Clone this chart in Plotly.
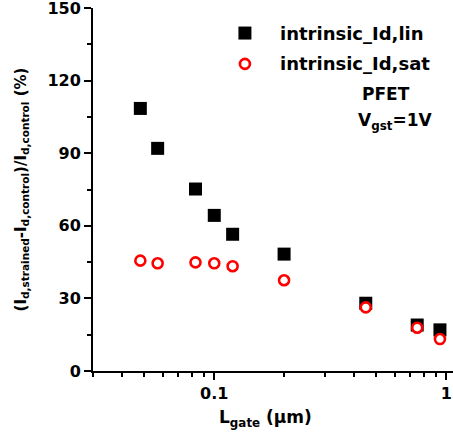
import math
import plotly.graph_objects as go

# Gate length (um) and relative drive-current gain (%)
l_gate = [0.048, 0.057, 0.083, 0.10, 0.12, 0.20, 0.45, 0.75, 0.94]
gain_lin = [108.5, 92.0, 75.2, 64.3, 56.5, 48.3, 28.0, 19.0, 17.0]
gain_sat = [45.6, 44.5, 44.9, 44.5, 43.3, 37.5, 26.3, 17.9, 13.2]

series_names = ["intrinsic_Id,lin", "intrinsic_Id,sat"]
x_major = [0.1, 1]
x_major_text = ["0.1", "1"]
x_minor = [0.03, 0.04, 0.05, 0.06, 0.07, 0.08, 0.09,
           0.2, 0.3, 0.4, 0.5, 0.6, 0.7, 0.8, 0.9]
y_major = [0, 30, 60, 90, 120, 150]

FONT = "DejaVu Sans, Arial, sans-serif"

SQUARE = dict(symbol="square", size=13, color="black", line=dict(width=0))
RING = dict(symbol="circle", size=10, color="white", line=dict(width=2.6, color="red"))

fig = go.Figure()
fig.add_trace(go.Scatter(x=l_gate, y=gain_lin, mode="markers",
                         name=series_names[0], marker=SQUARE, showlegend=False))
fig.add_trace(go.Scatter(x=l_gate, y=gain_sat, mode="markers",
                         name=series_names[1], marker=RING, showlegend=False))

# In-plot legend: symbol on an overlay axis in paper units, label as annotation
legend_y = [0.931, 0.846]
for name, mk, ly in zip(series_names, [SQUARE, RING], legend_y):
    fig.add_trace(go.Scatter(x=[0.422], y=[ly], xaxis="x2", yaxis="y2",
                             mode="markers", marker=mk, showlegend=False,
                             hoverinfo="skip"))
    fig.add_annotation(
        x=0.514, y=ly, xref="paper", yref="paper",
        text="<b>%s</b>" % name, showarrow=False, xanchor="left", yanchor="middle",
        font=dict(family=FONT, size=18, color="black"),
    )

fig.add_annotation(
    x=0.815, y=0.764, xref="paper", yref="paper", showarrow=False,
    text="<b>PFET</b>", xanchor="center", yanchor="middle",
    font=dict(family=FONT, size=17, color="black"),
)
fig.add_annotation(
    x=0.84, y=0.688, xref="paper", yref="paper", showarrow=False,
    text="<b>V<sub>gst</sub>=1V</b>", xanchor="center", yanchor="middle",
    font=dict(family=FONT, size=17, color="black"),
)

# x-axis title
fig.add_annotation(
    x=0.478, y=-0.094, xref="paper", yref="paper", showarrow=False,
    text="<b>L<sub>gate</sub> (μm)</b>", xanchor="center", yanchor="top",
    font=dict(family=FONT, size=17, color="black"),
)

fig.update_layout(
    width=453, height=445,
    margin=dict(l=93, r=0, t=8, b=74),
    paper_bgcolor="white", plot_bgcolor="white",
    font=dict(family=FONT, size=16, color="black"),
    xaxis=dict(
        type="log", range=[math.log10(0.03), math.log10(1.07)],
        tickmode="array", tickvals=x_major,
        ticktext=["<b>%s</b>" % t for t in x_major_text],
        ticks="outside", ticklen=7, tickwidth=2, tickcolor="black",
        minor=dict(tickmode="array", tickvals=x_minor, ticks="outside",
                   ticklen=4, tickwidth=1.5, tickcolor="black"),
        showline=True, linewidth=2, linecolor="black", showgrid=False, zeroline=False,
        tickfont=dict(family=FONT, size=16), ticklabeloverflow="allow",
    ),
    yaxis=dict(
        range=[0, 150], tickmode="array", tickvals=y_major,
        ticktext=["<b>%d</b>" % v for v in y_major],
        ticks="outside", ticklen=7, tickwidth=2, tickcolor="black",
        minor=dict(tickmode="linear", tick0=15, dtick=30, ticks="outside",
                   ticklen=4, tickwidth=1.5, tickcolor="black"),
        showline=True, linewidth=2, linecolor="black", showgrid=False, zeroline=False,
        tickfont=dict(family=FONT, size=16), ticklabeloverflow="allow",
        title=dict(text="<b>(I<sub>d,strained</sub>-I<sub>d,control</sub>)/I<sub>d,control</sub> (%)</b>",
                   font=dict(family=FONT, size=15), standoff=17),
    ),
    xaxis2=dict(domain=[0, 1], range=[0, 1], overlaying="x", visible=False),
    yaxis2=dict(domain=[0, 1], range=[0, 1], overlaying="y", visible=False),
)

fig.write_html("out.html")
